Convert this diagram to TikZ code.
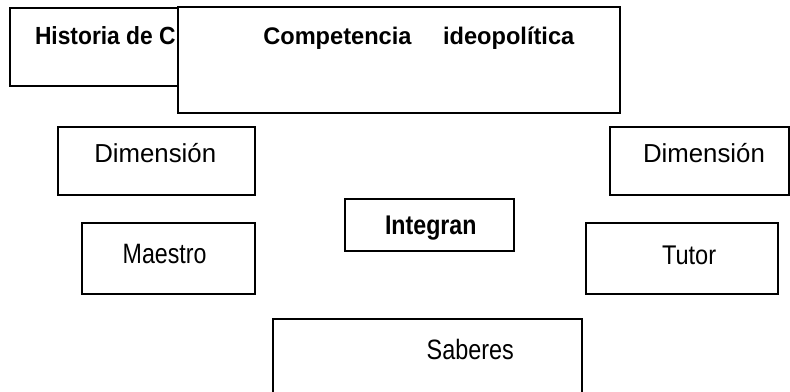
\documentclass[tikz,border=0pt]{standalone}
\usepackage{fontspec}
\setmainfont{Liberation Sans}
\begin{document}
\begin{tikzpicture}[x=1pt,y=-1pt,
  box/.style={draw=black,line width=2.2pt,fill=white,rectangle,inner sep=0pt,outer sep=0pt},
  lab/.style={anchor=base west,inner sep=0pt,outer sep=0pt,font=\fontsize{20}{24}\selectfont},
  blab/.style={anchor=base west,inner sep=0pt,outer sep=0pt,font=\fontsize{20}{24}\selectfont\bfseries}]
\useasboundingbox (0,0) rectangle (790,391);
\clip (0,0) rectangle (790,391);
% top boxes
\node[box,minimum width=290pt,minimum height=78pt] (hist) at (155,47) {};
\node[blab] (histt) at (35,44.3) {\scalebox{1.14}[1.24]{Historia de C}};
\node[box,minimum width=442pt,minimum height=106pt] (comp) at (399,60) {};
\node[blab] (compt) at (263.3,44.3) {\scalebox{1.18}[1.2]{Competencia\hspace*{26.8pt}ideopolítica}};
% dimension boxes
\node[box,minimum width=197pt,minimum height=68pt] (diml) at (156.5,161) {};
\node[lab] (dimlt) at (94.3,162.7) {\scalebox{1.29}[1.3]{Dimensión}};
\node[box,minimum width=179pt,minimum height=68pt] (dimr) at (699.5,161) {};
\node[lab] (dimrt) at (643,162.7) {\scalebox{1.29}[1.3]{Dimensión}};
% integran
\node[box,minimum width=169pt,minimum height=52pt] (integ) at (429.5,225) {};
\node[blab] (integt) at (385,234.3) {\scalebox{1.16}[1.35]{Integran}};
% maestro / tutor
\node[box,minimum width=173pt,minimum height=71pt] (maes) at (168.5,258.5) {};
\node[lab] (maest) at (122.7,263.3) {\scalebox{1.16}[1.40]{Maestro}};
\node[box,minimum width=192pt,minimum height=71pt] (tut) at (682,258.5) {};
\node[lab] (tutt) at (662,264.3) {\scalebox{1.18}[1.35]{Tutor}};
% saberes
\node[box,minimum width=309pt,minimum height=101pt] (sab) at (427.5,369.5) {};
\node[lab] (sabt) at (426.7,359.3) {\scalebox{1.17}[1.40]{Saberes}};
\end{tikzpicture}
\end{document}
